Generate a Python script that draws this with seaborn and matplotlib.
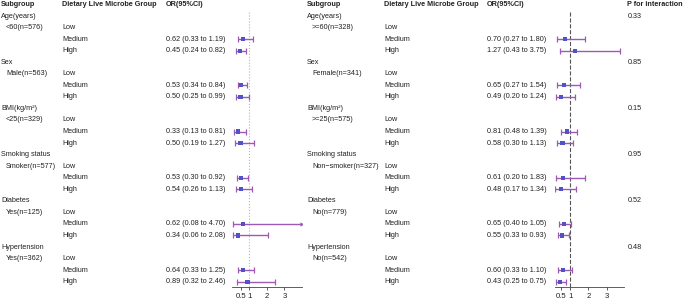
import numpy as np
import pandas as pd
import matplotlib.pyplot as plt
import seaborn as sns

# Subgroup forest plot data
groups = ["Age(years)", "Sex", "BMI(kg/m²)", "Smoking status", "Diabetes", "Hypertension"]
left_sub = ["<60(n=576)", "Male(n=563)", "<25(n=329)", "Smoker(n=577)", "Yes(n=125)", "Yes(n=362)"]
right_sub = [">=60(n=328)", "Female(n=341)", ">=25(n=575)", "Non−smoker(n=327)", "No(n=779)", "No(n=542)"]
levels = ["Low", "Medium", "High"]

# Medium, High for each group
left_or = [0.62, 0.45, 0.53, 0.50, 0.33, 0.50, 0.53, 0.54, 0.62, 0.34, 0.64, 0.89]
left_lo = [0.33, 0.24, 0.34, 0.25, 0.13, 0.19, 0.30, 0.26, 0.08, 0.06, 0.33, 0.32]
left_hi = [1.19, 0.82, 0.84, 0.99, 0.81, 1.27, 0.92, 1.13, 4.70, 2.08, 1.25, 2.46]

right_or = [0.70, 1.27, 0.65, 0.49, 0.81, 0.58, 0.61, 0.48, 0.65, 0.55, 0.60, 0.43]
right_lo = [0.27, 0.43, 0.27, 0.20, 0.48, 0.30, 0.20, 0.17, 0.40, 0.33, 0.33, 0.25]
right_hi = [1.80, 3.75, 1.54, 1.24, 1.39, 1.13, 1.83, 1.34, 1.05, 0.93, 1.10, 0.75]

p_int = ["0.33", "0.85", "0.15", "0.95", "0.52", "0.48"]
ticks = [0.5, 1, 2, 3]

sns.set_theme(style="white")
plt.rcParams['font.family'] = ['Liberation Sans', 'DejaVu Sans']

FS = 5.2
TXT = "#222222"
LINE = "#9C5AB5"
DOT = "#5252C8"
W, H = 685, 302
ROW0, STEP = 16, 11.55


def to_rows(orv, lo, hi):
    rows = []
    for g in range(len(groups)):
        for k, lev in enumerate(["Medium", "High"]):
            i = 2 * g + k
            rows.append({"row": 4 * g + 2 + k, "level": lev, "or": orv[i], "lo": lo[i], "hi": hi[i]})
    return pd.DataFrame(rows)


fig = plt.figure(figsize=(6.85, 3.02), dpi=100)
tab = fig.add_axes([0, 0, 1, 1])
tab.set_xlim(0, W)
tab.set_ylim((H - ROW0) / STEP, -ROW0 / STEP)
tab.axis("off")


def panel(subs, df, x_grp, x_sub, x_lev, x_or, fx0, fx1, xlim, ref_ls, ref_col):
    # table columns
    tab.text(x_grp, -1, "Subgroup", fontsize=FS, fontweight="bold", va="center", color=TXT)
    tab.text(x_lev, -1, "Dietary Live Microbe Group", fontsize=FS, fontweight="bold", va="center", color=TXT)
    tab.text(x_or, -1, "OR(95%CI)", fontsize=FS, fontweight="bold", va="center", color=TXT)
    for g, name in enumerate(groups):
        tab.text(x_grp, 4 * g, name, fontsize=FS, va="center", color=TXT)
        tab.text(x_sub, 4 * g + 1, subs[g], fontsize=FS, va="center", color=TXT)
        for k, lev in enumerate(levels):
            tab.text(x_lev, 4 * g + 1 + k, lev, fontsize=FS, va="center", color=TXT)
    for _, r in df.iterrows():
        tab.text(x_or, r["row"], f"{r['or']:.2f} ({r['lo']:.2f} to {r['hi']:.2f})",
                 fontsize=FS, va="center", color=TXT)

    # forest
    ax = fig.add_axes([fx0 / W, (H - 287) / H, (fx1 - fx0) / W, (287 - 12) / H])
    ax.set_xlim(*xlim)
    ax.patch.set_alpha(0)
    ax.axvline(1, color=ref_col, ls=ref_ls, lw=0.8, zorder=1)
    hi_c = df["hi"].clip(upper=xlim[1])
    ax.hlines(df["row"], df["lo"], hi_c, color=LINE, lw=1.0, zorder=2)
    ax.scatter(df["lo"], df["row"], marker="|", s=14, color=LINE, lw=0.9, zorder=2)
    inside = df["hi"] <= xlim[1]
    ax.scatter(df.loc[inside, "hi"], df.loc[inside, "row"], marker="|", s=14, color=LINE, lw=0.9, zorder=2)
    ax.scatter(hi_c[~inside], df.loc[~inside, "row"], marker=">", s=9, color=LINE, lw=0, zorder=2)
    sns.scatterplot(data=df, x="or", y="row", marker="s", s=9, color=DOT, edgecolor="none",
                    ax=ax, zorder=3, legend=False)
    ax.set_xlabel("")
    ax.set_ylabel("")
    ax.set_yticks([])
    ax.set_xticks(ticks)
    ax.set_xticklabels([str(t) for t in ticks])
    ax.set_ylim((287 - ROW0) / STEP, (12 - ROW0) / STEP)
    ax.tick_params(axis="x", labelsize=FS + 0.4, length=2.5, width=0.6, pad=1.5,
                   color="#444444", labelcolor=TXT, bottom=True)
    for s in ["left", "top", "right"]:
        ax.spines[s].set_visible(False)
    ax.spines["bottom"].set_linewidth(0.6)
    ax.spines["bottom"].set_color("#444444")
    return ax


panel(left_sub, to_rows(left_or, left_lo, left_hi), 1, 6, 62, 166, 231.8, 302, (0, 4), ":", "#B5B5B5")
panel(right_sub, to_rows(right_or, right_lo, right_hi), 307, 312, 384, 487, 555, 624, (0.17, 3.95), "--", "#555555")

tab.text(627, -1, "P for interaction", fontsize=FS, fontweight="bold", va="center", color=TXT)
for g, p in enumerate(p_int):
    tab.text(628, 4 * g, p, fontsize=FS, va="center", color=TXT)

fig.savefig("out.png", dpi=100)
